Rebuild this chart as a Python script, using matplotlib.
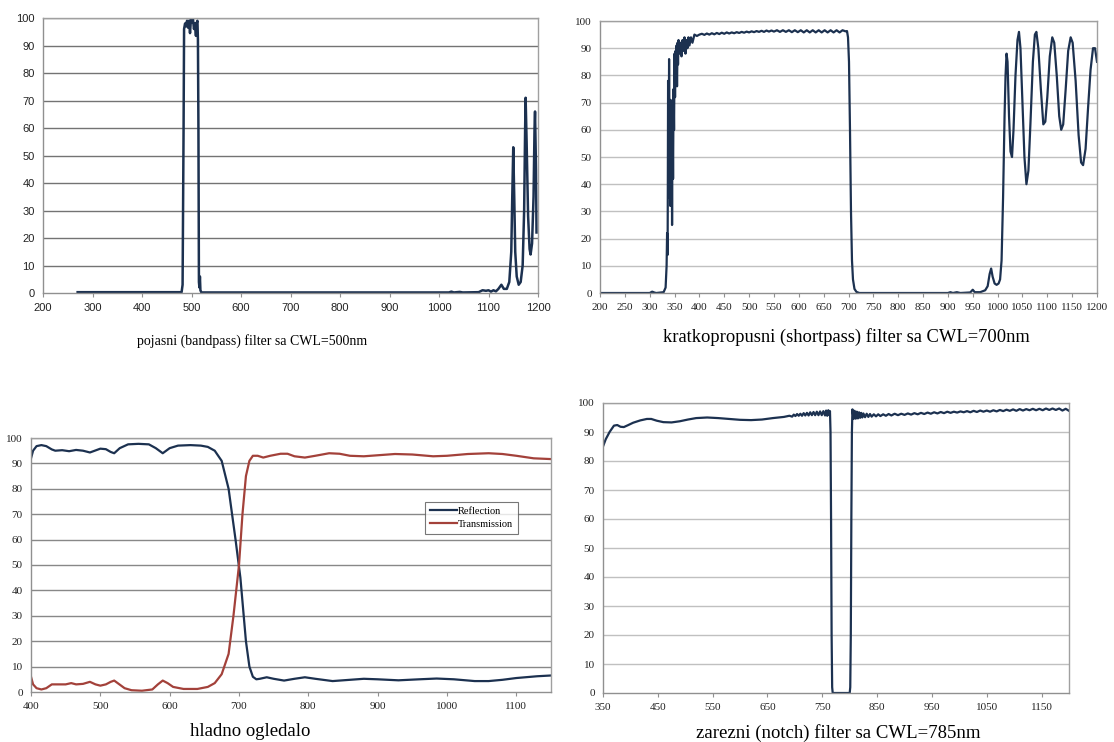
import numpy as np
import matplotlib
matplotlib.use('Agg')
import matplotlib.pyplot as plt

# bandpass filter, CWL = 500 nm
bp_wl = [270, 480, 482, 484, 485, 487, 489, 491, 493, 495, 497, 499, 501, 503, 505,
         507, 509, 510, 512, 513, 514, 515, 516, 517, 518, 520, 1020, 1025, 1030,
         1042, 1048, 1080, 1088, 1095, 1100, 1105, 1110, 1115, 1120, 1126, 1131,
         1137, 1142, 1146, 1148, 1150, 1152, 1154, 1157, 1161, 1165, 1169, 1172,
         1174, 1175, 1177, 1180, 1183, 1185, 1188, 1191, 1193, 1194, 1196, 1197]
bp_t = [0.3, 0.3, 3, 60, 96, 98, 97, 99, 96.5, 99, 94.5, 100, 98.5, 99.5, 96,
        98, 93.5, 98, 99, 92, 60, 4, 2, 6, 1, 0.2, 0.2, 0.5, 0.2,
        0.4, 0.2, 0.3, 1, 0.8, 1, 0.5, 1, 0.6, 1.5, 3, 1.5,
        1.5, 4, 15, 35, 53, 35, 15, 6, 3, 4, 10, 30,
        60, 71, 55, 28, 16, 14, 18, 35, 60, 66, 45, 22]

# shortpass filter, CWL = 700 nm
sp_wl = [200, 300, 305, 309, 313, 328, 332, 334, 335, 336, 336.5, 337, 338, 338.5,
         339, 340, 341, 341.5, 342, 343, 344, 345, 346, 347, 348, 349, 350, 351,
         352, 353, 354, 355, 356, 357, 358, 359, 360, 362, 364, 366, 368, 370,
         372, 374, 376, 378, 380, 383, 386, 390, 395, 400,
         405, 410, 415, 420, 425, 430, 435, 440, 445, 450, 455, 460, 465, 470,
         475, 480, 485, 490, 495, 500, 505, 510, 515, 520, 525, 530, 535, 540,
         545, 550, 556, 562, 568, 574, 580, 586, 592, 598, 604, 610, 616, 622,
         628, 634, 640, 646, 652, 658, 664, 670, 676, 682, 688, 694, 697, 699,
         701, 703, 705, 707, 709, 712, 716, 722, 900, 905, 910, 918, 925, 945,
         950, 954, 965, 975, 980, 984, 987, 990, 994, 998, 1002, 1005, 1008,
         1011, 1014, 1016, 1018, 1020, 1023, 1026, 1029, 1032, 1036, 1040, 1043,
         1046, 1050, 1054, 1058, 1062, 1066, 1071, 1075, 1078, 1082, 1087, 1092,
         1096, 1100, 1105, 1110, 1114, 1119, 1124, 1128, 1132, 1137, 1142, 1147,
         1151, 1157, 1163, 1168, 1172, 1177, 1182, 1187, 1192, 1196, 1200]
sp_t = [0, 0, 0.5, 0.2, 0, 0.3, 2, 10, 22, 14, 40, 78, 35, 60,
        86, 45, 70, 32, 71, 38, 70, 25, 68, 42, 75, 60, 88, 72,
        89, 80, 91, 76, 92, 84, 93, 88, 90, 92, 87, 93, 89, 94,
        88, 93, 90, 94, 91, 94, 92, 95, 94.5, 95,
        95.3, 94.9, 95.4, 95.0, 95.5, 95.1, 95.6, 95.2, 95.7, 95.3, 95.8, 95.4, 95.8, 95.5,
        95.9, 95.6, 96.0, 95.7, 96.1, 95.8, 96.2, 95.9, 96.3, 96.0, 96.4, 96.0, 96.5, 96.1,
        96.5, 96.1, 96.6, 96.0, 96.6, 96.0, 96.6, 95.9, 96.6, 95.9, 96.6, 95.8, 96.6, 95.8,
        96.6, 95.8, 96.6, 95.8, 96.6, 95.8, 96.6, 95.8, 96.6, 95.8, 96.6, 96.2, 96.3, 94,
        85, 60, 30, 12, 5, 1.5, 0.4, 0, 0, 0.3, 0, 0.3, 0, 0.2,
        1.2, 0.3, 0.3, 1, 2.5, 7, 9, 6, 3.5, 3, 3.5, 5, 12,
        35, 65, 80, 88, 85, 65, 52, 50, 60, 80, 93, 96,
        90, 70, 50, 40, 45, 62, 85, 95, 96, 90, 75, 62,
        63, 72, 87, 94, 92, 80, 65, 60, 62, 75, 89, 94,
        92, 78, 58, 48, 47, 53, 68, 82, 90, 90, 85]

# hot mirror
hm_wl_r = [400, 403, 408, 415, 422, 430, 435, 445, 455, 465, 475, 485, 492, 500,
           508, 515, 520, 528, 540, 555, 570, 580, 590, 600, 612, 630, 645, 655,
           665, 675, 685, 695, 702, 710, 715, 720, 725, 730, 740, 750, 765, 780,
           795, 810, 835, 860, 880, 900, 930, 960, 985, 1010, 1040, 1060, 1080,
           1100, 1130, 1150]
hm_refl = [92, 95, 96.8, 97.2, 96.8, 95.5, 95, 95.2, 94.8, 95.3, 95, 94.3, 95, 95.8,
           95.6, 94.5, 94, 96, 97.5, 97.7, 97.5, 96, 94, 96, 97, 97.2, 97, 96.5,
           95, 91, 80, 60, 45, 20, 10, 6, 5, 5.2, 5.8, 5.2, 4.5, 5.2,
           5.8, 5.2, 4.3, 4.8, 5.2, 5, 4.6, 5, 5.3, 5, 4.3, 4.3, 4.8,
           5.5, 6.2, 6.5]
hm_wl_t = [400, 403, 408, 415, 422, 430, 440, 450, 458, 465, 475, 485, 493, 500,
           508, 515, 520, 525, 535, 545, 560, 575, 583, 590, 597, 605, 620, 640,
           655, 665, 675, 685, 692, 700, 705, 710, 715, 720, 727, 735, 745, 760,
           770, 780, 795, 810, 830, 845, 860, 880, 900, 925, 950, 980, 1000,
           1030, 1060, 1080, 1100, 1125, 1150]
hm_trans = [6, 3, 1.5, 1, 1.5, 3, 3, 3, 3.5, 3, 3.2, 4, 3, 2.5,
            3, 4, 4.5, 3.5, 1.5, 0.7, 0.5, 1, 3, 4.5, 3.5, 2, 1.2, 1.2,
            2, 3.5, 7, 15, 30, 50, 70, 85, 91, 93, 93, 92.3, 93, 93.8,
            93.8, 92.8, 92.3, 93, 94, 93.8, 93, 92.8, 93.2, 93.7, 93.5, 92.8, 93,
            93.7, 94, 93.7, 93, 92, 91.7]

# notch filter, CWL = 785 nm
nf_wl = [350, 355, 362, 370, 376, 382, 388, 395, 405, 418, 430, 438, 448, 460,
         475, 490, 505, 520, 540, 560, 580, 600, 620, 640, 660, 680, 690,
         695, 698, 701, 704, 707, 710, 713, 716, 719, 722, 725, 728, 731, 734,
         737, 740, 743, 746, 749, 752, 755, 757, 759, 761, 763, 764, 765, 766,
         767, 768, 769, 800, 801, 802, 803, 804, 805, 807, 809, 811, 813, 815,
         817, 819, 821, 823, 825, 828, 831, 834, 837, 840, 844, 848, 852, 856,
         861, 866, 871, 876, 882, 888, 894, 900, 906, 912, 918, 924, 930, 936,
         942, 948, 954, 960, 966, 972, 978, 984, 990, 996, 1002, 1008, 1014,
         1020, 1026, 1032, 1038, 1044, 1050, 1056, 1062, 1068, 1074, 1080, 1086,
         1092, 1098, 1104, 1110, 1116, 1122, 1128, 1134, 1140, 1146, 1152, 1158,
         1164, 1170, 1176, 1182, 1188, 1194, 1200]
nf_t = [85, 87.5, 90, 92.2, 92.4, 91.8, 91.7, 92.3, 93.2, 94, 94.5, 94.5, 93.9, 93.4,
        93.3, 93.7, 94.3, 94.8, 95, 94.8, 94.5, 94.2, 94.1, 94.3, 94.8, 95.2, 95.6,
        95.3, 96.0, 95.5, 96.2, 95.6, 96.3, 95.6, 96.5, 95.7, 96.6, 95.7, 96.8, 95.8, 96.9,
        95.8, 97.0, 95.8, 97.1, 95.8, 97.2, 95.7, 97.4, 95.6, 97.5, 95.8, 97.2, 90, 60,
        20, 2, 0, 0, 2, 20, 60, 90, 97.8, 94.5, 97.3, 94.6, 97, 94.7,
        96.8, 94.9, 96.6, 95, 96.4, 95.1, 96.3, 95.2, 96.2, 95.3, 96.1, 95.4, 96.1, 95.5,
        96.1, 95.6, 96.2, 95.7, 96.3, 95.8, 96.3, 95.9, 96.4, 96.0, 96.5, 96.1, 96.6, 96.2,
        96.7, 96.3, 96.8, 96.4, 96.9, 96.5, 97.0, 96.6, 97.0, 96.7, 97.1, 96.8, 97.2,
        96.8, 97.3, 96.9, 97.4, 97.0, 97.4, 97.0, 97.5, 97.1, 97.6, 97.2, 97.7,
        97.3, 97.8, 97.3, 97.9, 97.4, 97.9, 97.5, 98.0, 97.5, 98.0, 97.5, 98.1,
        97.6, 98.1, 97.6, 98.1, 97.4, 98.0, 97.3]

NAVY = '#1c3150'
RED = '#a3413a'
W, H = 1114, 742


def make_axes(fig, left, right, top, bottom):
    return fig.add_axes([left / W, 1 - bottom / H, (right - left) / W, (bottom - top) / H])


def style_axes(ax, xlim, xticks, grid_color, font, fsize):
    ax.set_xlim(*xlim)
    ax.set_ylim(0, 100)
    ax.set_xticks(xticks)
    ax.set_yticks(range(0, 101, 10))
    for y in range(10, 101, 10):
        ax.axhline(y, color=grid_color, lw=1.0, zorder=0)
    for s in ax.spines.values():
        s.set_color('#a0a0a0')
        s.set_linewidth(1.0)
    ax.spines['left'].set_color('#909090')
    ax.spines['bottom'].set_color('#909090')
    ax.tick_params(axis='x', direction='out', length=3, width=0.8, color='#909090', pad=4)
    ax.tick_params(axis='y', length=0, pad=6)
    for lab in ax.get_xticklabels() + ax.get_yticklabels():
        lab.set_fontfamily(font)
        lab.set_fontsize(fsize)
        lab.set_color('#222222')


fig = plt.figure(figsize=(W / 100, H / 100), dpi=100)
fig.patch.set_facecolor('white')

ax1 = make_axes(fig, 43, 538, 18, 293)
ax1.plot(bp_wl, bp_t, color=NAVY, lw=1.8)
style_axes(ax1, (200, 1200), range(200, 1201, 100), '#737373', 'Liberation Sans', 8)

ax2 = make_axes(fig, 600, 1097, 21, 293)
ax2.plot(sp_wl, sp_t, color=NAVY, lw=1.6)
style_axes(ax2, (200, 1200), range(200, 1201, 50), '#c0c0c0', 'Liberation Serif', 8)

ax3 = make_axes(fig, 31, 551, 438, 692)
ax3.plot(hm_wl_r, hm_refl, color=NAVY, lw=1.6, label='Reflection')
ax3.plot(hm_wl_t, hm_trans, color=RED, lw=1.6, label='Transmission')
style_axes(ax3, (400, 1150), range(400, 1101, 100), '#888888', 'Liberation Serif', 8)
leg = ax3.legend(loc='upper left', bbox_to_anchor=(0.757, 0.75), frameon=True, fancybox=False,
                 prop={'family': 'Liberation Serif', 'size': 7.5}, handlelength=2.6,
                 handletextpad=0.1, borderpad=0.5, labelspacing=0.35, borderaxespad=0)
leg.get_frame().set_edgecolor('#555555')
leg.get_frame().set_linewidth(0.8)

ax4 = make_axes(fig, 603, 1069, 403, 693)
ax4.plot(nf_wl, nf_t, color=NAVY, lw=1.6)
style_axes(ax4, (350, 1200), range(350, 1151, 100), '#c0c0c0', 'Liberation Serif', 8)

fig.text(252 / W, 1 - 341 / H, 'pojasni (bandpass) filter sa CWL=500nm', ha='center', va='center',
         family='Liberation Serif', fontsize=10)
fig.text(846 / W, 1 - 337 / H, 'kratkopropusni (shortpass) filter sa CWL=700nm', ha='center',
         va='center', family='Liberation Serif', fontsize=13.3)
fig.text(250 / W, 1 - 731 / H, 'hladno ogledalo', ha='center', va='center',
         family='Liberation Serif', fontsize=13.5)
fig.text(838 / W, 1 - 733 / H, 'zarezni (notch) filter sa CWL=785nm', ha='center', va='center',
         family='Liberation Serif', fontsize=13.5)

fig.savefig('out.png', dpi=100, facecolor='white')
